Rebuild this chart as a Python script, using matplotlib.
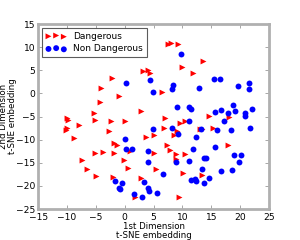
import matplotlib
matplotlib.use("Agg")
import matplotlib.pyplot as plt
import numpy as np

# Dangerous (red triangles)
dang_x = [7.56, 7.98, 9.24, 13.52, 9.94, 11.84, 3.18, 4.0, 4.34, 6.42, -0.97, -2.27, -4.09, -4.35,
          -5.25, -10.03, -9.86, 2.84, -5.08, -2.36, 0.12, -7.95, -10.03, -10.2, -2.76, -8.71,
          -1.84, -1.32, 3.65, 5.09, 8.55, 9.02, 6.73, 6.99, 9.59, 10.45, 14.61, 18.07, 13.05,
          13.4, 15.27, 0.84, -5.08, -3.74, -1.84, 5.0, 7.29, 7.86, 8.95, 10.45, 17.9, -7.43,
          -0.11, 8.84, -6.52, 0.62, 5.38, 10.16, 13.4, -4.96, -1.96, 2.84, 1.71, 9.42]
dang_y = [10.61, 10.96, 10.57, 7.0, 5.7, 4.47, 4.84, 5.12, 4.47, 0.23, -0.46, 3.39, 1.23, -1.86,
          -4.29, -5.22, -5.76, -3.77, -5.76, -5.93, -5.93, -6.73, -7.44, -7.96, -8.18, -9.58,
          -10.73, -11.16, -9.37, -9.06, -9.06, -8.2, -7.38, -5.28, -6.3, -6.04, -4.83, -5.15,
          -7.66, -7.75, -7.49, -12.39, -12.89, -12.72, -12.83, -12.83, -11.16, -12.14, -13.17,
          -13.17, -11.16, -14.3, -14.3, -14.25, -16.31, -16.07, -16.42, -17.22, -17.69, -17.93,
          -18.12, -18.36, -22.41, -22.45]

# Non Dangerous (blue circles)
safe_x = [9.71, 0.15, 4.31, 4.97, 8.43, 8.15, 15.48, 16.52, 12.93, 19.55, 21.59, 21.45, 9.02,
          11.15, 11.44, 15.56, 16.69, 17.81, 18.68, 19.15, 20.84, 20.76, 22.11, 11.15, 17.21,
          4.97, 8.12, 9.24, 13.17, 16.0, 18.42, 21.68, 0.06, 12.36, 0.24, 1.28, 3.96, 11.84,
          15.65, 4.1, 8.84, 11.2, 13.66, 14.0, 18.9, 20.15, 19.75, 6.7, 13.43, 16.74, 18.59,
          -1.67, -0.45, 3.41, 11.49, 12.13, 12.27, 14.66, 13.74, -0.97, -0.8, 4.0, 4.22, 5.66,
          1.62, 3.01]
safe_y = [8.51, 2.18, 2.89, 0.34, 1.75, 1.01, 3.04, 3.04, 1.16, 1.53, 2.14, 0.9, -2.88, -2.84,
          -3.27, -3.96, -3.49, -4.24, -2.45, -3.88, -4.31, -4.83, -3.38, -5.97, -6.04, -7.59,
          -7.44, -8.68, -7.7, -7.92, -7.96, -7.53, -9.91, -9.43, -12.03, -11.96, -12.35, -11.96,
          -11.53, -14.73, -14.79, -14.51, -13.97, -13.97, -13.26, -13.26, -14.77, -17.39, -16.42,
          -16.72, -16.5, -18.84, -19.34, -19.16, -18.77, -18.58, -18.95, -18.34, -19.42, -20.52,
          -20.72, -20.52, -21.11, -21.54, -21.76, -22.45]

labels = ["Dangerous", "Non Dangerous"]
xticks = [-15, -10, -5, 0, 5, 10, 15, 20, 25]
yticks = [-25, -20, -15, -10, -5, 0, 5, 10, 15]

plt.rcParams['font.family'] = ['DejaVu Sans']
fig = plt.figure(figsize=(3.0, 2.4), dpi=100)
fig.patch.set_facecolor('white')
ax = fig.add_axes([0.127, 0.129, 0.77, 0.771])

ax.scatter(dang_x, dang_y, marker='>', s=18, c='red', linewidths=0, label=labels[0])
ax.scatter(safe_x, safe_y, marker='o', s=18, c='blue', linewidths=0, label=labels[1])

ax.set_xlim(-15, 25)
ax.set_ylim(-25, 15)
ax.set_xticks(xticks)
ax.set_yticks(yticks)
ax.set_xticklabels([("\u2212" + str(-t)) if t < 0 else str(t) for t in xticks], fontsize=6.6)
ax.set_yticklabels([("\u2212" + str(-t)) if t < 0 else str(t) for t in yticks], fontsize=6.6)
ax.tick_params(direction='in', length=3, width=0.6, color='#999999', top=True, right=True)
ax.tick_params(axis='x', pad=3)
ax.tick_params(axis='y', pad=2)
for sp in ax.spines.values():
    sp.set_color('#b0b0b0')
    sp.set_linewidth(2)

ax.set_xlabel("1st Dimension\nt-SNE embedding", fontsize=6.2, linespacing=1.0)
ax.set_ylabel("2nd Dimension\nt-SNE embedding", fontsize=6.2, linespacing=1.0)
ax.xaxis.set_label_coords(0.5, -0.07)
ax.yaxis.set_label_coords(-0.09, 0.5)

leg = ax.legend(loc='upper left', scatterpoints=3, fontsize=6.5, frameon=True, fancybox=False,
                borderpad=0.4, handletextpad=0.75, labelspacing=0.4, handlelength=2.3,
                borderaxespad=0.45)
leg.get_frame().set_edgecolor('#333333')
leg.get_frame().set_linewidth(0.8)

fig.savefig("out.png", dpi=100, facecolor='white')
